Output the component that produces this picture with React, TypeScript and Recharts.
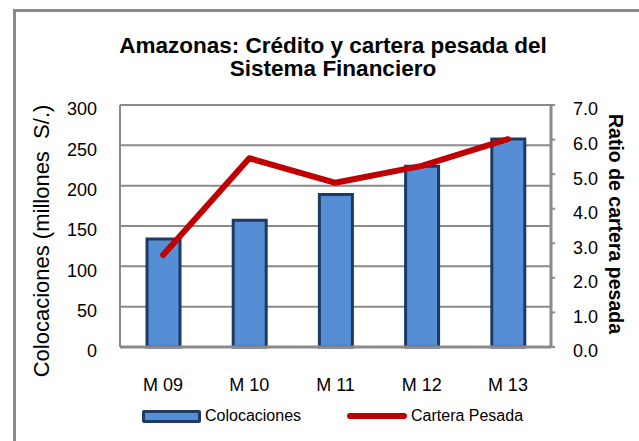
import { Bar, CartesianGrid, ComposedChart, Line, XAxis, YAxis } from "recharts";

const categories = ["M 09", "M 10", "M 11", "M 12", "M 13"];
const colocaciones = [134, 157, 189, 224, 258];
const carteraPesada = [2.66, 5.46, 4.75, 5.24, 6.01];
const leftTicks = [0, 50, 100, 150, 200, 250, 300];
const rightTicks = [0, 1, 2, 3, 4, 5, 6, 7];

const data = categories.map((c, i) => ({
  name: c,
  colocaciones: colocaciones[i],
  cartera: carteraPesada[i],
}));

const FONT = "'Liberation Sans', Arial, sans-serif";
const GRAY = "#8a8a8a";
const BAR_FILL = "#558ed5";
const BAR_STROKE = "#1c3a63";
const RED = "#c00000";
const TICK_SIZE = 18;

// y-axis tick text, nudged a little below the grid line like the original
function YTick(props: any) {
  const { x, y, payload, textAnchor, digits } = props;
  const label = digits ? Number(payload.value).toFixed(digits) : String(payload.value);
  return (
    <text
      x={x}
      y={y + 4}
      dy="0.355em"
      textAnchor={textAnchor}
      fill="#000"
      fontSize={TICK_SIZE}
      fontFamily={FONT}
    >
      {label}
    </text>
  );
}

export default function App() {
  return (
    <div
      style={{
        position: "absolute",
        left: 0,
        top: 0,
        width: 639,
        height: 441,
        background: "#fff",
        overflow: "hidden",
        fontFamily: FONT,
      }}
    >
      {/* outer frame, only left and top edges are visible */}
      <div
        style={{
          position: "absolute",
          left: 13,
          top: 9,
          width: 700,
          height: 500,
          borderLeft: `3px solid ${GRAY}`,
          borderTop: `3px solid ${GRAY}`,
        }}
      />
      <div
        style={{
          position: "absolute",
          left: 0,
          width: 666,
          top: 34,
          textAlign: "center",
          fontWeight: "bold",
          fontSize: 22.5,
          lineHeight: "23px",
          color: "#000",
        }}
      >
        Amazonas: Crédito y cartera pesada del
        <br />
        Sistema Financiero
      </div>

      <ComposedChart
        width={639}
        height={441}
        data={data}
        margin={{ top: 105, right: 28, left: 60, bottom: 54 }}
        style={{ position: "absolute", left: 0, top: 0 }}
      >
        <CartesianGrid
          yAxisId="left"
          vertical={false}
          stroke={GRAY}
          strokeWidth={2}
        />
        <XAxis
          dataKey="name"
          height={40}
          axisLine={{ stroke: GRAY, strokeWidth: 3 }}
          tickLine={false}
          tickSize={6}
          tickMargin={25}
          tick={{ fill: "#000", fontSize: TICK_SIZE, fontFamily: FONT }}
        />
        <YAxis
          yAxisId="left"
          orientation="left"
          width={60}
          domain={[0, 300]}
          ticks={leftTicks}
          interval={0}
          axisLine={{ stroke: GRAY, strokeWidth: 2 }}
          tickLine={false}
          tickSize={6}
          tickMargin={17}
          tick={(p: any) => <YTick {...p} />}
        />
        <YAxis
          yAxisId="right"
          orientation="right"
          width={60}
          domain={[0, 7]}
          ticks={rightTicks}
          interval={0}
          axisLine={{ stroke: GRAY, strokeWidth: 3 }}
          tickLine={{ stroke: GRAY, strokeWidth: 2 }}
          tickSize={4}
          tickMargin={18}
          tick={(p: any) => <YTick {...p} digits={1} textAnchor="start" />}
        />
        <Bar
          yAxisId="left"
          dataKey="colocaciones"
          barSize={33}
          fill={BAR_FILL}
          stroke={BAR_STROKE}
          strokeWidth={3}
          isAnimationActive={false}
        />
        <Line
          yAxisId="right"
          type="linear"
          dataKey="cartera"
          stroke={RED}
          strokeWidth={6}
          strokeLinecap="round"
          strokeLinejoin="round"
          dot={false}
          activeDot={false}
          isAnimationActive={false}
        />
      </ComposedChart>

      <div
        style={{
          position: "absolute",
          left: 42,
          top: 241,
          transform: "translate(-50%, -50%) rotate(-90deg)",
          whiteSpace: "pre",
          fontSize: 22,
          color: "#000",
        }}
      >
        {"Colocaciones (millones  S/.)"}
      </div>
      <div
        style={{
          position: "absolute",
          left: 615,
          top: 224,
          transform: "translate(-50%, -50%) rotate(90deg)",
          whiteSpace: "nowrap",
          fontSize: 19.5,
          fontWeight: "bold",
          color: "#000",
        }}
      >
        Ratio de cartera pesada
      </div>

      {/* legend */}
      <div
        style={{
          position: "absolute",
          left: 142,
          top: 410,
          width: 59,
          height: 13,
          boxSizing: "border-box",
          background: BAR_FILL,
          border: `3px solid ${BAR_STROKE}`,
          borderRadius: 2,
        }}
      />
      <div
        style={{
          position: "absolute",
          left: 205,
          top: 407,
          fontSize: 16,
          lineHeight: "18px",
          color: "#000",
        }}
      >
        Colocaciones
      </div>
      <div
        style={{
          position: "absolute",
          left: 347,
          top: 413,
          width: 60,
          height: 6,
          background: RED,
          borderRadius: 3,
        }}
      />
      <div
        style={{
          position: "absolute",
          left: 411,
          top: 407,
          fontSize: 16,
          lineHeight: "18px",
          color: "#000",
        }}
      >
        Cartera Pesada
      </div>
    </div>
  );
}
